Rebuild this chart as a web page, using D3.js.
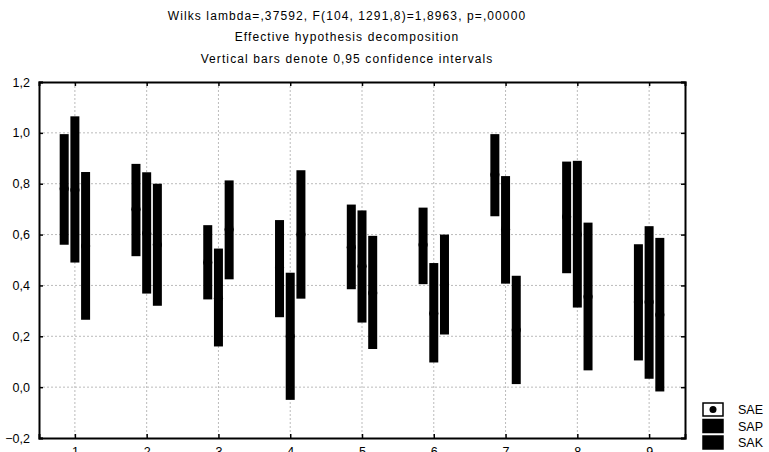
<!DOCTYPE html>
<html>
<head>
<meta charset="utf-8">
<script src="https://cdn.jsdelivr.net/npm/d3@7"></script>
<style>
	body { margin: 0; background: #fff; }
	text { font-family: Arial, "Liberation Sans", sans-serif; }
</style>
</head>
<body>
<svg id="chart" width="769" height="452"></svg>
<script>
var categories = [1, 2, 3, 4, 5, 6, 7, 8, 9];
var series = ['SAE', 'SAP', 'SAK'];
var yTicks = [-0.2, 0.0, 0.2, 0.4, 0.6, 0.8, 1.0, 1.2];
var titles = [
	'Wilks lambda=,37592, F(104, 1291,8)=1,8963, p=,00000',
	'Effective hypothesis decomposition',
	'Vertical bars denote 0,95 confidence intervals'
];

// means and 0.95 limits
var saeMean  = [0.78, 0.70, 0.49, 0.47, 0.55, 0.56, 0.835, 0.67, 0.335];
var saeLow   = [0.56, 0.515, 0.345, 0.275, 0.385, 0.405, 0.672, 0.448, 0.105];
var saeHigh  = [0.995, 0.878, 0.637, 0.657, 0.718, 0.706, 0.995, 0.887, 0.562];
var sapMean  = [0.775, 0.605, 0.35, 0.20, 0.475, 0.29, 0.62, 0.60, 0.335];
var sapLow   = [0.49, 0.368, 0.16, -0.05, 0.254, 0.097, 0.407, 0.313, 0.033];
var sapHigh  = [1.065, 0.845, 0.545, 0.45, 0.695, 0.488, 0.83, 0.89, 0.633];
var sakMean  = [0.555, 0.56, 0.62, 0.60, 0.37, 0.405, 0.225, 0.355, 0.285];
var sakLow   = [0.265, 0.32, 0.424, 0.348, 0.15, 0.207, 0.012, 0.066, -0.017];
var sakHigh  = [0.846, 0.80, 0.813, 0.853, 0.595, 0.60, 0.438, 0.647, 0.587];

var seriesData = [
	{ name: 'SAE', mean: saeMean, low: saeLow, high: saeHigh },
	{ name: 'SAP', mean: sapMean, low: sapLow, high: sapHigh },
	{ name: 'SAK', mean: sakMean, low: sakLow, high: sakHigh }
];

drawChart();

function drawChart() {
	var svg = d3.select('#chart');
	var pLeft = 39, pRight = 685, pTop = 82, pBottom = 438;

	var x = d3.scaleLinear().domain([0.5, 9.5]).range([pLeft, pRight]);
	var y = d3.scaleLinear().domain([-0.2, 1.2]).range([pBottom, pTop]);
	var offset = d3.scalePoint().domain(series).range([-10.7, 10.7]);
	var barWidth = 9;
	var fmt = function(d) { return d3.format('.1f')(d).replace('.', ','); };

	// titles (statistica draws them a bit wide)
	svg.append('g').selectAll('text')
		.data(titles)
		.join('text')
			.attr('x', 347)
			.attr('y', (d, i) => 19.5 + i * 21.5)
			.attr('text-anchor', 'middle')
			.attr('font-size', 12)
			.attr('letter-spacing', 1.1)
			.text(d => d);

	// grid
	var grid = svg.append('g')
		.attr('stroke', '#bbb')
		.attr('stroke-dasharray', '2,2');
	grid.selectAll('.hg')
		.data(yTicks.slice(1, -1))
		.join('line')
			.attr('class', 'hg')
			.attr('x1', pLeft).attr('x2', pRight)
			.attr('y1', d => y(d)).attr('y2', d => y(d));
	grid.selectAll('.vg')
		.data(categories)
		.join('line')
			.attr('class', 'vg')
			.attr('x1', d => x(d)).attr('x2', d => x(d))
			.attr('y1', pTop).attr('y2', pBottom);

	// intervals + means
	var groups = svg.append('g').selectAll('g')
		.data(seriesData)
		.join('g');

	groups.selectAll('rect')
		.data(s => categories.map((c, i) => ({ c: c, s: s.name, low: s.low[i], high: s.high[i] })))
		.join('rect')
			.attr('x', d => x(d.c) + offset(d.s) - barWidth / 2)
			.attr('width', barWidth)
			.attr('y', d => y(d.high))
			.attr('height', d => y(d.low) - y(d.high))
			.attr('fill', '#000');

	groups.selectAll('circle')
		.data(s => categories.map((c, i) => ({ c: c, s: s.name, m: s.mean[i] })))
		.join('circle')
			.attr('cx', d => x(d.c) + offset(d.s))
			.attr('cy', d => y(d.m))
			.attr('r', 4.6)
			.attr('fill', '#000');

	// axes
	var yAxis = d3.axisLeft(y).tickValues(yTicks).tickFormat(fmt).tickSize(-4).tickPadding(9);
	var xAxis = d3.axisBottom(x).tickValues(categories).tickSize(-4).tickPadding(9);

	svg.append('g').attr('transform', `translate(${pLeft},0)`).call(yAxis);
	svg.append('g').attr('transform', `translate(0,${pBottom})`).call(xAxis);
	svg.append('g').attr('transform', `translate(${pRight},0)`)
		.call(d3.axisRight(y).tickValues(yTicks).tickSize(-4).tickFormat(''));
	svg.append('g').attr('transform', `translate(0,${pTop})`)
		.call(d3.axisTop(x).tickValues(categories).tickSize(-4).tickFormat(''));

	svg.selectAll('.domain').attr('stroke', '#000').attr('stroke-width', 2);
	svg.selectAll('.tick line').attr('stroke', '#000').attr('stroke-width', 1.5);
	svg.selectAll('.tick text')
		.attr('font-size', 12.5)
		.attr('fill', '#000')
		.attr('font-family', 'Arial, "Liberation Sans", sans-serif');

	// legend
	var legend = svg.append('g').attr('transform', 'translate(703,403)');
	var item = legend.selectAll('g')
		.data(series)
		.join('g')
			.attr('transform', (d, i) => `translate(0,${i * 16.5})`);
	item.append('rect')
		.attr('width', 20).attr('height', 13)
		.attr('fill', (d, i) => i === 0 ? '#fff' : '#000')
		.attr('stroke', '#000').attr('stroke-width', 1.5);
	item.filter((d, i) => i === 0).append('circle')
		.attr('cx', 10).attr('cy', 6.5).attr('r', 3.5).attr('fill', '#000');
	item.append('text')
		.attr('x', 35).attr('y', 11)
		.attr('font-size', 12.5)
		.text(d => d);
}
</script>
</body>
</html>
